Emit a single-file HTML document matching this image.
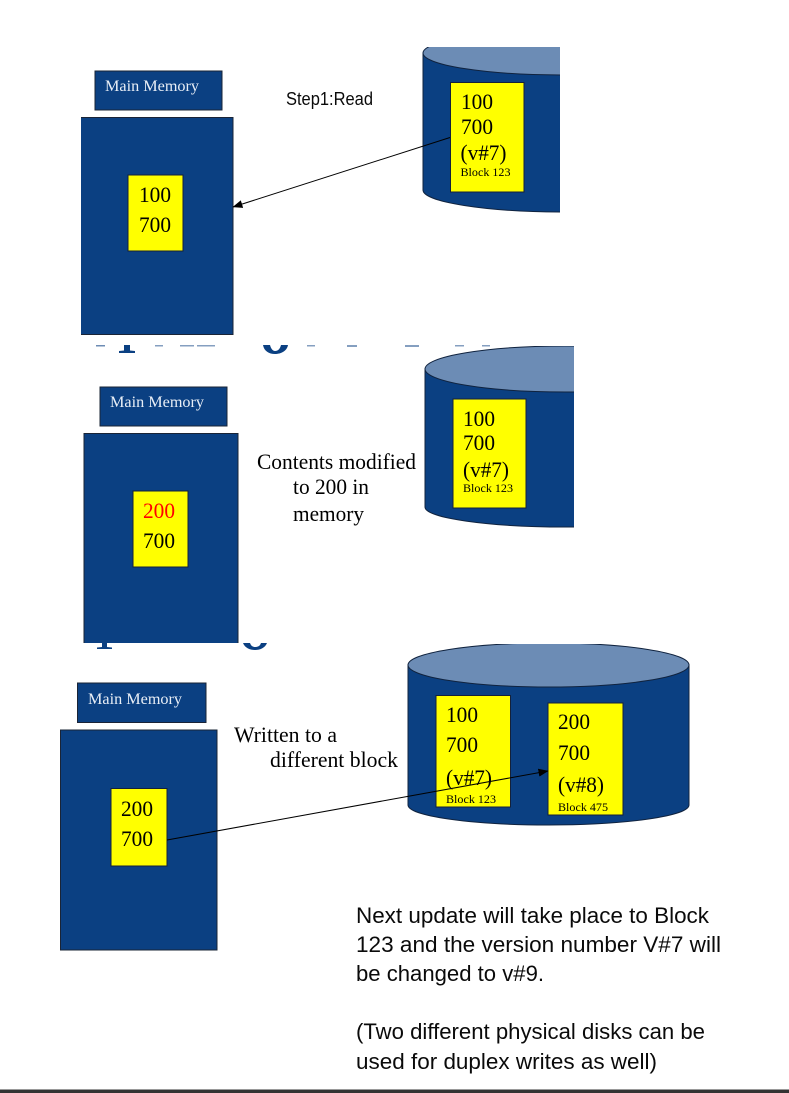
<!DOCTYPE html>
<html>
<head>
<meta charset="utf-8">
<style>
html,body{margin:0;padding:0;background:#fff;width:789px;height:1093px;overflow:hidden}
svg{display:block}
.t{font-family:"Liberation Serif",serif;fill:#000}
.n{font-size:22px}
.b{font-size:12px}
.m{font-family:"Liberation Serif",serif;font-size:16px;fill:#e8eef6}
.c{font-family:"Liberation Sans",sans-serif;fill:#0a0a0a}
.y{fill:#ffff00;stroke:#14213a;stroke-width:1}
.r{fill:#0b4082;stroke:#1a2436;stroke-width:1}
</style>
</head>
<body>
<svg width="789" height="1093" viewBox="0 0 789 1093" xmlns="http://www.w3.org/2000/svg">
<defs>
<clipPath id="c1"><rect x="400" y="47" width="160" height="180"/></clipPath>
<clipPath id="c2"><rect x="400" y="346" width="174" height="190"/></clipPath>
<clipPath id="c3"><rect x="400" y="644" width="300" height="190"/></clipPath>
<marker id="ah" markerWidth="10" markerHeight="8" refX="9.5" refY="4" orient="auto" markerUnits="userSpaceOnUse"><path d="M0,0 L10,4 L0,8 Z" fill="#000"/></marker>
</defs>

<!-- clipped heading fragments -->
<g fill="#0b4082">
<rect x="96" y="345" width="9" height="1.500" opacity=".6"/>
<path d="M119,353 L135,353 L135,351 L130,350.500 L130,345 L124,345 L124,350.500 L119,351 Z"/>
<path d="M263,345 L288,345 C287,351 281,354 275,354 C269,354 264,351 263,345 Z M270,345 C271,349 273,351 275,351 C278,351 280,349 281,345 Z" fill-rule="evenodd"/>
<rect x="155" y="345" width="8" height="1.500" opacity=".5"/>
<rect x="180" y="345" width="14" height="1.500" opacity=".5"/>
<rect x="197" y="345" width="18" height="1.500" opacity=".5"/>
<rect x="307" y="345" width="8" height="1.500" opacity=".5"/>
<rect x="347" y="345" width="10" height="2" opacity=".5"/>
<rect x="405" y="345" width="14" height="2" opacity=".5"/>
<rect x="455" y="345" width="9" height="1.500" opacity=".5"/>
<rect x="482" y="345" width="8" height="1.500" opacity=".5"/>
<path d="M97,649 L112,649 L112,647.500 L107,647 L107,643 L102,643 L102,647 L97,647.500 Z"/>
<path d="M243,643 L267,643 C265,648 260,650 255,650 C250,650 245,648 243,643 Z M250,643 C251,646 253,647 255,647 C258,647 260,646 261,643 Z" fill-rule="evenodd"/>
</g>

<!-- Scene 1 -->
<rect class="r" x="95" y="71" width="127" height="39"/>
<text class="m" x="105" y="91" textLength="94" lengthAdjust="spacingAndGlyphs">Main Memory</text>
<rect x="81" y="117" width="152" height="218" fill="#0b4082"/>
<path d="M81,117.500 H233 V334.500 H81" fill="none" stroke="#1a2436"/>
<rect class="y" x="128" y="175" width="55" height="76"/>
<text class="t n" x="139" y="202" textLength="32" lengthAdjust="spacingAndGlyphs">100</text>
<text class="t n" x="139" y="232" textLength="32" lengthAdjust="spacingAndGlyphs">700</text>
<text class="c" x="286" y="105" font-size="18" textLength="87" lengthAdjust="spacingAndGlyphs">Step1:Read</text>
<g clip-path="url(#c1)">
<path d="M423,53 V190 C423,202 486,212 563,212 C640,212 703,202 703,190 V53 Z" fill="#0b4082" stroke="#10233f"/>
<ellipse cx="563" cy="53" rx="140" ry="22" fill="#6c8cb5" stroke="#10233f"/>
</g>
<rect class="y" x="450.500" y="82.500" width="73.500" height="109.500"/>
<text class="t n" x="461" y="109" textLength="32" lengthAdjust="spacingAndGlyphs">100</text>
<text class="t n" x="461" y="134" textLength="32" lengthAdjust="spacingAndGlyphs">700</text>
<text class="t n" x="460.500" y="160" textLength="46" lengthAdjust="spacingAndGlyphs">(v#7)</text>
<text class="t b" x="460.500" y="176" textLength="50" lengthAdjust="spacingAndGlyphs">Block 123</text>
<line x1="450" y1="137.500" x2="233" y2="207" stroke="#000" stroke-width="1" marker-end="url(#ah)"/>

<!-- Scene 2 -->
<rect class="r" x="100" y="387" width="127" height="39"/>
<text class="m" x="110" y="407" textLength="94" lengthAdjust="spacingAndGlyphs">Main Memory</text>
<rect x="84" y="433.500" width="154" height="209.500" fill="#0b4082"/>
<path d="M84,643 V433.500 H238 V643" fill="none" stroke="#1a2436"/>
<rect class="y" x="133" y="491" width="55" height="76"/>
<text class="t n" x="143" y="518" textLength="32" lengthAdjust="spacingAndGlyphs" style="fill:#ff0000">200</text>
<text class="t n" x="143" y="548" textLength="32" lengthAdjust="spacingAndGlyphs">700</text>
<text class="t" font-size="22" x="257" y="469" textLength="159" lengthAdjust="spacingAndGlyphs">Contents modified</text>
<text class="t" font-size="22" x="293" y="494" textLength="76" lengthAdjust="spacingAndGlyphs">to 200 in</text>
<text class="t" font-size="22" x="293" y="521" textLength="71" lengthAdjust="spacingAndGlyphs">memory</text>
<g clip-path="url(#c2)">
<path d="M425,369 V507 C425,518 488,527 565,527 C642,527 705,518 705,507 V369 Z" fill="#0b4082" stroke="#10233f"/>
<ellipse cx="565" cy="369" rx="140" ry="23" fill="#6c8cb5" stroke="#10233f"/>
</g>
<rect class="y" x="453" y="399" width="73" height="109"/>
<text class="t n" x="463" y="426" textLength="32" lengthAdjust="spacingAndGlyphs">100</text>
<text class="t n" x="463" y="450" textLength="32" lengthAdjust="spacingAndGlyphs">700</text>
<text class="t n" x="463" y="477" textLength="46" lengthAdjust="spacingAndGlyphs">(v#7)</text>
<text class="t b" x="463" y="492" textLength="50" lengthAdjust="spacingAndGlyphs">Block 123</text>

<!-- Scene 3 -->
<rect class="r" x="77.500" y="683" width="128.500" height="39.500"/>
<text class="m" x="88" y="704" textLength="94" lengthAdjust="spacingAndGlyphs">Main Memory</text>
<rect class="r" x="60.500" y="730" width="156.500" height="220"/>
<rect class="y" x="111" y="788.500" width="56" height="77.500"/>
<text class="t n" x="121" y="816" textLength="32" lengthAdjust="spacingAndGlyphs">200</text>
<text class="t n" x="121" y="846" textLength="32" lengthAdjust="spacingAndGlyphs">700</text>
<text class="t" font-size="22" x="234" y="742" textLength="103" lengthAdjust="spacingAndGlyphs">Written to a</text>
<text class="t" font-size="22" x="270" y="767" textLength="128" lengthAdjust="spacingAndGlyphs">different block</text>
<g clip-path="url(#c3)">
<path d="M408,665 V805 C408,816 471,825 548.500,825 C626,825 689,816 689,805 V665 Z" fill="#0b4082" stroke="#10233f"/>
<ellipse cx="548.500" cy="665" rx="140.500" ry="22" fill="#6c8cb5" stroke="#10233f"/>
</g>
<rect class="y" x="436" y="695.500" width="74.500" height="111.500"/>
<text class="t n" x="446" y="722" textLength="32" lengthAdjust="spacingAndGlyphs">100</text>
<text class="t n" x="446" y="752" textLength="32" lengthAdjust="spacingAndGlyphs">700</text>
<text class="t n" x="446" y="785" textLength="46" lengthAdjust="spacingAndGlyphs">(v#7)</text>
<text class="t b" x="446" y="803" textLength="50" lengthAdjust="spacingAndGlyphs">Block 123</text>
<rect class="y" x="548" y="703" width="75" height="112"/>
<text class="t n" x="558" y="729" textLength="32" lengthAdjust="spacingAndGlyphs">200</text>
<text class="t n" x="558" y="760" textLength="32" lengthAdjust="spacingAndGlyphs">700</text>
<text class="t n" x="558" y="792" textLength="46" lengthAdjust="spacingAndGlyphs">(v#8)</text>
<text class="t b" x="558" y="811" textLength="50" lengthAdjust="spacingAndGlyphs">Block 475</text>
<line x1="167" y1="840" x2="548" y2="771" stroke="#000" stroke-width="1" marker-end="url(#ah)"/>

<!-- Note -->
<text class="c" font-size="22" x="356" y="923" textLength="353" lengthAdjust="spacingAndGlyphs">Next update will take place to Block</text>
<text class="c" font-size="22" x="356" y="952" textLength="365" lengthAdjust="spacingAndGlyphs">123 and the version number V#7 will</text>
<text class="c" font-size="22" x="356" y="981" textLength="188" lengthAdjust="spacingAndGlyphs">be changed to v#9.</text>
<text class="c" font-size="22" x="356" y="1039" textLength="349" lengthAdjust="spacingAndGlyphs">(Two different physical disks can be</text>
<text class="c" font-size="22" x="356" y="1069" textLength="301" lengthAdjust="spacingAndGlyphs">used for duplex writes as well)</text>

<rect x="0" y="1089.500" width="789" height="3.500" fill="#333333"/>
</svg>
</body>
</html>
